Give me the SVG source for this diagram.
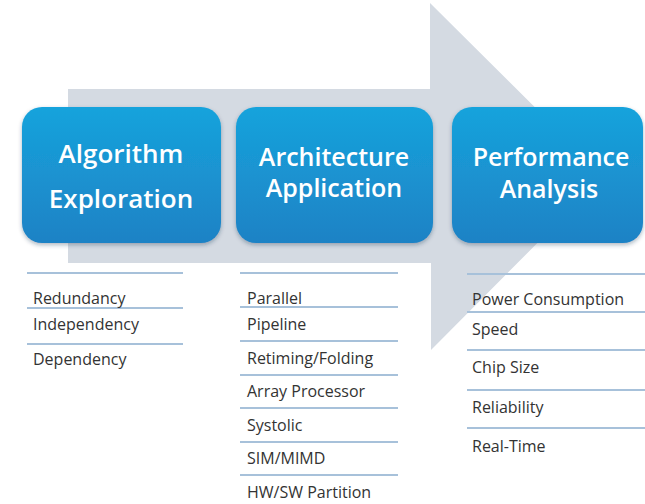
<svg xmlns="http://www.w3.org/2000/svg" width="645" height="504" viewBox="0 0 645 504">
  <defs>
    <linearGradient id="boxGrad" x1="0" y1="0" x2="0" y2="1">
      <stop offset="0" stop-color="#16a3dc"/>
      <stop offset="1" stop-color="#1f82c5"/>
    </linearGradient>
    <filter id="shadow" x="-10%" y="-10%" width="120%" height="130%">
      <feDropShadow dx="0" dy="2" stdDeviation="2" flood-color="#1a3550" flood-opacity="0.35"/>
    </filter>
  </defs>
  <style>
    .box { fill: url(#boxGrad); filter: url(#shadow); }
    .title { font-family: "Open Sans", "Liberation Sans", sans-serif; font-size: 26px; font-weight: 600; fill: #ffffff; text-anchor: middle; }
    .tight { font-size: 25px; }
    .item { font-family: "Open Sans", "Liberation Sans", sans-serif; font-size: 16px; fill: #333333; }
    .rule { stroke: #a7c1da; stroke-width: 2; }
    .arrow { fill: #d4dae2; }
  </style>

  <g id="connectors">
    <path class="arrow" d="M68,89 L430,89 L430,3 L604,176 L431,350 L431,263 L68,263 Z"/>
  </g>

  <g id="node-algorithm">
    <rect class="box" x="22" y="107" width="199" height="136" rx="20" ry="20"/>
    <text class="title" x="121" y="163">Algorithm</text>
    <text class="title" x="121" y="208">Exploration</text>
  </g>

  <g id="node-architecture">
    <rect class="box" x="236" y="107" width="197" height="136" rx="20" ry="20"/>
    <text class="title tight" x="334" y="166">Architecture</text>
    <text class="title tight" x="334" y="197">Application</text>
  </g>

  <g id="node-performance">
    <rect class="box" x="452" y="107" width="191" height="136" rx="20" ry="20"/>
    <text class="title tight" x="551" y="166">Performance</text>
    <text class="title tight" x="549" y="198">Analysis</text>
  </g>

  <g id="list-algorithm">
    <line class="rule" x1="27" y1="273" x2="183" y2="273"/>
    <line class="rule" x1="27" y1="308" x2="183" y2="308"/>
    <line class="rule" x1="27" y1="344" x2="183" y2="344"/>
    <text class="item" x="33" y="304">Redundancy</text>
    <text class="item" x="33" y="330">Independency</text>
    <text class="item" x="33" y="365">Dependency</text>
  </g>

  <g id="list-architecture">
    <line class="rule" x1="240" y1="273" x2="398" y2="273"/>
    <line class="rule" x1="240" y1="307" x2="398" y2="307"/>
    <line class="rule" x1="240" y1="341" x2="398" y2="341"/>
    <line class="rule" x1="240" y1="375" x2="398" y2="375"/>
    <line class="rule" x1="240" y1="408" x2="398" y2="408"/>
    <line class="rule" x1="240" y1="442" x2="398" y2="442"/>
    <line class="rule" x1="240" y1="475" x2="398" y2="475"/>
    <text class="item" x="247" y="304">Parallel</text>
    <text class="item" x="247" y="330">Pipeline</text>
    <text class="item" x="247" y="364">Retiming/Folding</text>
    <text class="item" x="247" y="397">Array Processor</text>
    <text class="item" x="247" y="431">Systolic</text>
    <text class="item" x="247" y="464">SIM/MIMD</text>
    <text class="item" x="247" y="498">HW/SW Partition</text>
  </g>

  <g id="list-performance">
    <line class="rule" x1="467" y1="274" x2="645" y2="274"/>
    <line class="rule" x1="467" y1="312" x2="645" y2="312"/>
    <line class="rule" x1="467" y1="350" x2="645" y2="350"/>
    <line class="rule" x1="467" y1="390" x2="645" y2="390"/>
    <line class="rule" x1="467" y1="428" x2="645" y2="428"/>
    <text class="item" x="472" y="305">Power Consumption</text>
    <text class="item" x="472" y="335">Speed</text>
    <text class="item" x="472" y="373">Chip Size</text>
    <text class="item" x="472" y="413">Reliability</text>
    <text class="item" x="472" y="452">Real-Time</text>
  </g>
</svg>
